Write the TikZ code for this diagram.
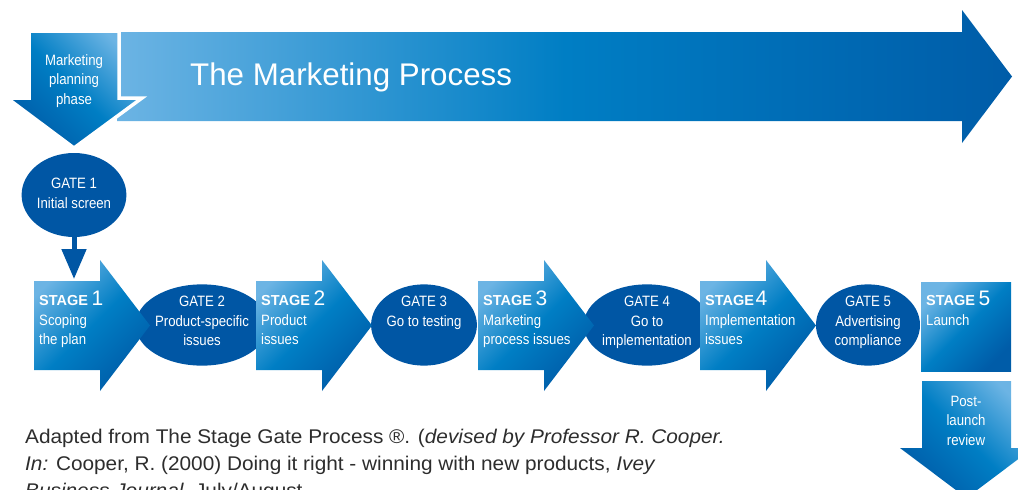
\documentclass[tikz,border=0pt]{standalone}
\usepackage{fontspec}
\setmainfont{Liberation Sans}
\newfontfamily\narrowsf[FakeStretch=0.88]{Liberation Sans}
\newfontfamily\widesf[FakeStretch=1.05]{Liberation Sans}
\usetikzlibrary{shapes.geometric,arrows.meta}

\definecolor{gateblue}{RGB}{0,86,164}
\definecolor{paleblue}{RGB}{108,180,228}
\definecolor{midblue}{RGB}{0,126,196}
\definecolor{deepblue}{RGB}{0,92,168}
\definecolor{inkgrey}{RGB}{45,45,45}

% one stage: body from x=#1, head pointing right
\newcommand{\stagearrow}[2]{%
  \shade[stageshade] (#1,281) -- ++(66,0) -- ++(0,-21) -- ++(50,65.5)
    -- ++(-50,65.5) -- ++(0,-21) -- ++(-66,0) -- cycle;
  \coordinate (#2) at (#1,281);
}
% "STAGE n" heading
\newcommand{\stagehead}[2][3.5pt]{{\normalfont\bfseries\fontsize{14.5}{16}\selectfont STAGE}\hspace{#1}{\normalfont\fontsize{21}{19.5}\selectfont #2}}

\begin{document}
\begin{tikzpicture}[x=1pt, y=-1pt, >=stealth,
  stageshade/.style={top color=paleblue, bottom color=deepblue, middle color=midblue, shading angle=45},
  downshade/.style={top color=paleblue, bottom color=deepblue, middle color=midblue, shading angle=-45},
  gate/.style={ellipse, fill=gateblue, text=white, inner sep=0pt, minimum width=104pt, minimum height=80pt,
    align=center, text depth=8pt, font=\narrowsf\fontsize{15}{19.5}\selectfont},
  stagetext/.style={anchor=north west, text=white, inner xsep=5pt, inner ysep=0pt, align=left,
    font=\narrowsf\fontsize{15}{19.5}\selectfont},
  arrowtext/.style={anchor=base, text=white, align=center, font=\narrowsf\fontsize{15}{19.5}\selectfont}]

\useasboundingbox (0,0) rectangle (1018,490);
\clip (0,0) rectangle (1018,490);

% banner across the top
\shade[left color=paleblue, right color=deepblue, middle color=midblue]
  (117,32) -- (962,32) -- (962,10) -- (1012,76.5) -- (962,143) -- (962,121) -- (117,121) -- cycle;
\node[anchor=base west, text=white, inner sep=0pt, font=\fontsize{31.3}{34}\selectfont] (title) at (190,85) {The Marketing Process};

\shadedraw[downshade, draw=white, line width=3.5pt]
  (29,31) -- (119,31) -- (119,98) -- (142,98) -- (74,148) -- (7,98) -- (29,98) -- cycle;
\node[arrowtext] (plan) at (74,104) {Marketing\\planning\\phase};

% gates
\node[gate, minimum height=84pt, text depth=3pt] (g1) at (74,195) {GATE 1\\Initial screen};
\node[gate] (g2) at (202,325) {GATE 2\\Product-specific\\issues};
\node[gate, text depth=27.5pt] (g3) at (424,325) {GATE 3\\Go to testing};
\node[gate] (g4) at (647,325) {GATE 4\\Go to\\implementation};
\node[gate] (g5) at (868,325) {GATE 5\\Advertising\\compliance};

% stages
\stagearrow{34}{p1}
\stagearrow{256}{p2}
\stagearrow{478}{p3}
\stagearrow{700}{p4}
\shade[stageshade] (921,282) rectangle (1011,371);
\coordinate (p5) at (921,282);

\node[stagetext] (s1) at ([yshift=-10pt]p1) {\stagehead{1}\\Scoping\\the plan};
\node[stagetext] (s2) at ([yshift=-10pt]p2) {\stagehead{2}\\Product\\issues};
\node[stagetext] (s3) at ([yshift=-10pt]p3) {\stagehead{3}\\Marketing\\process issues};
\node[stagetext] (s4) at ([yshift=-10pt]p4) {\stagehead[1.5pt]{4}\\Implementation\\issues};
\node[stagetext] (s5) at ([yshift=-9pt]p5) {\stagehead{5}\\Launch};

\draw[gateblue, line width=5pt, -{Triangle[width=24pt, length=30pt]}, shorten >=2pt] (g1.south) -- (g1.south |- p1);

% post-launch review
\shade[downshade] (922,381) -- (1011,381) -- (1011,448) -- (1033,448) -- (966.5,498) -- (900,448) -- (922,448) -- cycle;
\node[arrowtext] (review) at (966,445) {Post-\\launch\\review};

\node[anchor=base west, inner sep=0pt, align=left, text=inkgrey, font=\widesf\fontsize{19.8}{27}\selectfont] (credit) at (25,497)
  {Adapted from The Stage Gate Process \textregistered. (\textit{devised by Professor R. Cooper.}\\
   \textit{In:} Cooper, R. (2000) Doing it right - winning with new products, \textit{Ivey}\\
   \textit{Business Journal}, July/August};

\end{tikzpicture}
\end{document}
